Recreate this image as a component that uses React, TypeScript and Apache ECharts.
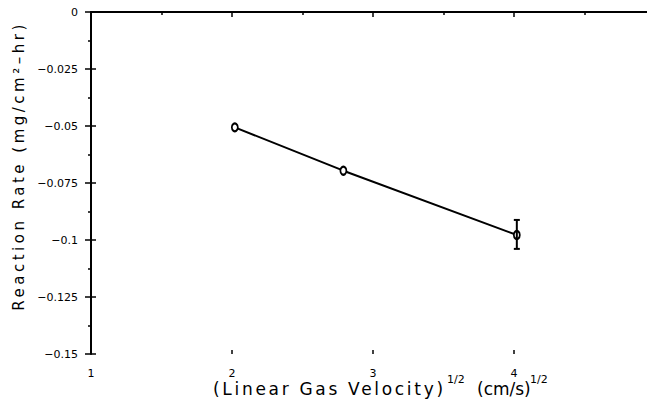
import React, { useEffect, useRef } from "react";
import * as echarts from "echarts";

// Data
const xValues = [2.02, 2.79, 4.02];
const yValues = [-0.0506, -0.0696, -0.0978];
const errHigh: (number | null)[] = [null, null, -0.0912];
const errLow: (number | null)[] = [null, null, -0.1039];

const xTicks = [1, 2, 3, 4, 5];
const xTickLabels = ["1", "2", "3", "4", "5"];
const yTicks = [0, -0.025, -0.05, -0.075, -0.1, -0.125, -0.15];
const yTickLabels = ["0", "\u22120.025", "\u22120.05", "\u22120.075", "\u22120.1", "\u22120.125", "\u22120.15"];

const xNameMain = "(Linear Gas Velocity)";
const xNameUnit = "(cm/s)";
const xNameSup = "1/2";
const yName = "Reaction Rate (mg/cm\u00b2\u2013hr)";

const FONT = "DejaVu Sans";

export default function App() {
  const ref = useRef<HTMLDivElement>(null);
  useEffect(() => {
    if (!ref.current) return;
    const chart = echarts.init(ref.current, null, { renderer: "svg" });
    const lineData = xValues.map((x, i) => [x, yValues[i]]);
    const errData = xValues
      .map((x, i) => [x, errLow[i], errHigh[i]])
      .filter((d) => d[1] != null && d[2] != null);
    const yMin = yTicks[yTicks.length - 1];
    const yMax = yTicks[0];
    const xMin = xTicks[0];
    const xMax = xTicks[xTicks.length - 1];

    const tickStyle = { color: "#000", width: 1.5 };
    const textStyleBase = { fill: "#000", fontFamily: FONT };
    const innerTick = { stroke: "#000", lineWidth: 1.5 };

    chart.setOption({
      animation: false,
      backgroundColor: "#fff",
      grid: {
        left: 91,
        right: -8,
        top: 12,
        bottom: 57,
        show: false,
        outerBoundsMode: "none",
        containLabel: false,
      },
      xAxis: [
        {
          type: "value",
          min: xMin,
          max: xMax,
          interval: 1,
          position: "bottom",
          splitLine: { show: false },
          axisLine: { show: true, lineStyle: { color: "#000", width: 2 } },
          axisTick: { show: true, inside: false, length: 5, lineStyle: tickStyle },
          minorTick: { show: true, splitNumber: 2, length: 3, lineStyle: tickStyle },
          axisLabel: { show: false },
        },
        {
          type: "value",
          min: xMin,
          max: xMax,
          interval: 1,
          position: "top",
          splitLine: { show: false },
          axisLine: { show: true, lineStyle: { color: "#000", width: 1 } },
          axisTick: { show: false },
          axisLabel: { show: false },
        },
      ],
      yAxis: [
        {
          type: "value",
          min: yMin,
          max: yMax,
          interval: 0.025,
          position: "left",
          splitLine: { show: false },
          axisLine: { show: true, lineStyle: { color: "#000", width: 2 } },
          axisTick: { show: true, inside: false, length: 6, lineStyle: tickStyle },
          minorTick: { show: true, splitNumber: 2, length: 3, lineStyle: tickStyle },
          axisLabel: {
            margin: 13,
            color: "#000",
            fontFamily: FONT,
            fontSize: 11,
            formatter: (v: number) => {
              const i = yTicks.findIndex((t) => Math.abs(t - v) < 1e-9);
              return i >= 0 ? yTickLabels[i] : String(v);
            },
          },
        },
      ],
      graphic: [
        {
          type: "text",
          x: 19,
          y: 166,
          rotation: Math.PI / 2,
          style: {
            ...textStyleBase,
            text: yName,
            fontSize: 15,
            align: "center",
            verticalAlign: "middle",
          },
        },
        {
          type: "text",
          x: 213,
          y: 389,
          style: { ...textStyleBase, text: xNameMain, fontSize: 17, align: "left", verticalAlign: "middle" },
        },
        {
          type: "text",
          x: 447,
          y: 379,
          style: { ...textStyleBase, text: xNameSup, fontSize: 11, align: "left", verticalAlign: "middle" },
        },
        {
          type: "text",
          x: 477,
          y: 389,
          style: { ...textStyleBase, text: xNameUnit, fontSize: 17, align: "left", verticalAlign: "middle" },
        },
        {
          type: "text",
          x: 530,
          y: 379,
          style: { ...textStyleBase, text: xNameSup, fontSize: 11, align: "left", verticalAlign: "middle" },
        },
      ],
      series: [
        {
          type: "line",
          xAxisIndex: 0,
          yAxisIndex: 0,
          data: lineData,
          lineStyle: { color: "#000", width: 2 },
          symbol: "emptyCircle",
          symbolSize: [6, 8],
          showSymbol: true,
          itemStyle: { color: "#000", borderColor: "#000", borderWidth: 1.5 },
          z: 3,
        },
        {
          type: "custom",
          xAxisIndex: 0,
          yAxisIndex: 0,
          data: errData,
          z: 4,
          renderItem: (params: any, api: any) => {
            const x = api.value(0);
            const lo = api.coord([x, api.value(1)]);
            const hi = api.coord([x, api.value(2)]);
            const w = 3;
            const style = { stroke: "#000", lineWidth: 2 };
            return {
              type: "group",
              children: [
                { type: "line", shape: { x1: lo[0], y1: lo[1], x2: hi[0], y2: hi[1] }, style },
                { type: "line", shape: { x1: hi[0] - w, y1: hi[1], x2: hi[0] + w, y2: hi[1] }, style },
                { type: "line", shape: { x1: lo[0] - w, y1: lo[1], x2: lo[0] + w, y2: lo[1] }, style },
              ],
            };
          },
        },
        {
          // inner halves of the major x ticks (ticks cross the axis) and the x tick labels
          type: "custom",
          xAxisIndex: 0,
          yAxisIndex: 0,
          data: xTicks.map((v, i) => [v, yMin, i]),
          silent: true,
          clip: false,
          renderItem: (params: any, api: any) => {
            const p = api.coord([api.value(0), api.value(1)]);
            const label = xTickLabels[api.value(2)];
            return {
              type: "group",
              children: [
                { type: "line", shape: { x1: p[0], y1: p[1], x2: p[0], y2: p[1] - 4 }, style: innerTick },
                {
                  type: "text",
                  x: p[0],
                  y: p[1] + 19,
                  style: {
                    text: label,
                    fill: "#000",
                    fontFamily: FONT,
                    fontSize: 11,
                    align: "center",
                    verticalAlign: "middle",
                  },
                },
              ],
            };
          },
        },
        {
          // inner halves of the major y ticks
          type: "custom",
          xAxisIndex: 0,
          yAxisIndex: 0,
          data: yTicks.map((v) => [xMin, v]),
          silent: true,
          clip: false,
          renderItem: (params: any, api: any) => {
            const p = api.coord([api.value(0), api.value(1)]);
            return { type: "line", shape: { x1: p[0], y1: p[1], x2: p[0] + 5, y2: p[1] }, style: innerTick };
          },
        },
      ],
    });

    // widen letter spacing of the axis titles to match the reference's wide lettering
    ref.current.querySelectorAll("text").forEach((t) => {
      const s = t.textContent || "";
      if (s.indexOf("Reaction") >= 0) t.setAttribute("letter-spacing", "3.5");
      else if (s === xNameMain) t.setAttribute("letter-spacing", "2.7");
    });

    return () => chart.dispose();
  }, []);

  return (
    <div
      ref={ref}
      style={{ position: "absolute", left: 0, top: 0, width: 647, height: 411, background: "#fff" }}
    />
  );
}
